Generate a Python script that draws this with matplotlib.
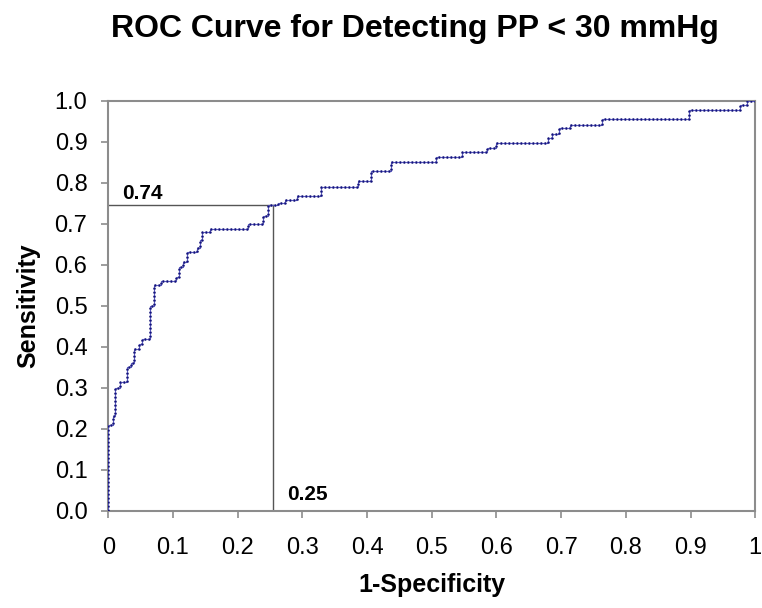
import numpy as np
import matplotlib
matplotlib.use("Agg")
import matplotlib.pyplot as plt

# ROC staircase corners (post-step: horizontal then rise)
fpr = [0.0, 0.0, 0.0066, 0.011, 0.018, 0.029, 0.035, 0.040, 0.047, 0.052,
       0.065, 0.070, 0.081, 0.105, 0.110, 0.116, 0.121, 0.137, 0.142, 0.145,
       0.157, 0.216, 0.239, 0.247, 0.262, 0.273, 0.291, 0.329, 0.386, 0.406,
       0.437, 0.506, 0.546, 0.586, 0.599, 0.680, 0.686, 0.696, 0.714, 0.763,
       0.897, 0.976, 0.987, 1.0]
tpr = [0.0, 0.209, 0.232, 0.300, 0.313, 0.350, 0.360, 0.395, 0.407, 0.419,
       0.500, 0.550, 0.560, 0.571, 0.595, 0.607, 0.632, 0.640, 0.660, 0.680,
       0.687, 0.700, 0.720, 0.745, 0.750, 0.758, 0.768, 0.790, 0.805, 0.828,
       0.851, 0.863, 0.876, 0.886, 0.897, 0.910, 0.920, 0.933, 0.942, 0.957,
       0.979, 0.990, 1.0, 1.0]

cut_x = 0.254
cut_y = 0.745
x_ticks = [0, 0.1, 0.2, 0.3, 0.4, 0.5, 0.6, 0.7, 0.8, 0.9, 1]
x_labels = ["0", "0.1", "0.2", "0.3", "0.4", "0.5", "0.6", "0.7", "0.8", "0.9", "1"]
y_ticks = np.arange(0, 1.01, 0.1)

plt.rcParams['font.family'] = ['Liberation Sans', 'DejaVu Sans']

fig = plt.figure(figsize=(7.62, 6.08), dpi=100)
ax = fig.add_axes([0.1421, 0.160, 0.849, 0.674])

# thin line under a dotted overlay, like the excel markers
ax.step(fpr, tpr, where="post", color="#5a5ac0", lw=0.8, zorder=3)
ax.step(fpr, tpr, where="post", color="#14147a", lw=1.8,
        linestyle=(0, (0.7, 0.9)), zorder=4)

# cut-off reference lines
ax.plot([0, cut_x], [cut_y, cut_y], color="#555555", lw=1.0, zorder=2)
ax.plot([cut_x, cut_x], [0, cut_y], color="#555555", lw=1.0, zorder=2)
ax.text(0.021, 0.76, "0.74", fontsize=15, fontweight="bold")
ax.text(0.277, 0.026, "0.25", fontsize=15, fontweight="bold")

ax.set_xlim(0, 1)
ax.set_ylim(0, 1)
ax.set_xticks(x_ticks)
ax.set_xticklabels(x_labels)
ax.set_yticks(y_ticks)
ax.set_yticklabels(["%.1f" % v for v in y_ticks])
for s in ax.spines.values():
    s.set_color("#8c8c8c")
    s.set_linewidth(1.5)
ax.tick_params(axis="both", direction="out", length=5, width=1.2,
               color="#8c8c8c", labelsize=17, labelcolor="black")
ax.tick_params(axis="y", pad=10)
ax.tick_params(axis="x", pad=14)

ax.set_xlabel("1-Specificity", fontsize=18, fontweight="bold", labelpad=10)
ax.set_ylabel("Sensitivity", fontsize=18, fontweight="bold", labelpad=10)
fig.text(0.545, 0.953, "ROC Curve for Detecting PP < 30 mmHg", fontsize=23,
         fontweight="bold", ha="center", va="center")

fig.savefig("out.png", dpi=100)
